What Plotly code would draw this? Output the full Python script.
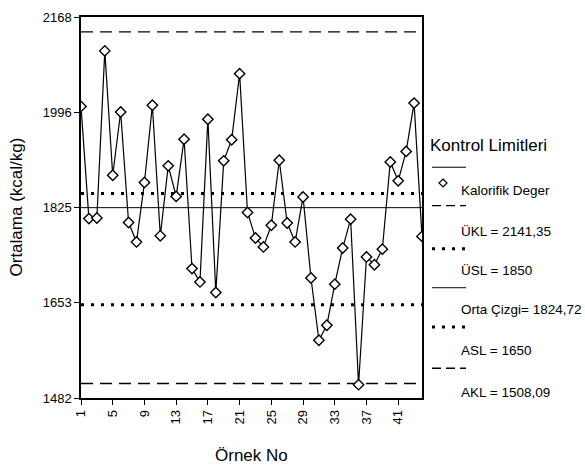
import plotly.graph_objects as go

# ---- data ----
sample_no = list(range(1, 45))
kalorifik = [2007, 1805, 1806, 2107, 1883, 1997, 1798, 1763, 1870, 2009,
             1774, 1900, 1845, 1948, 1715, 1691, 1984, 1672, 1909, 1947,
             2066, 1816, 1770, 1754, 1793, 1910, 1797, 1763, 1844, 1698,
             1586, 1613, 1687, 1752, 1804, 1506, 1736, 1722, 1750, 1907,
             1873, 1926, 2013, 1773]
UKL = 2141.35
USL = 1850
ORTA = 1824.72
ASL = 1650
AKL = 1508.09
y_tickvals = [1482, 1653.5, 1825, 1996.5, 2168]
y_ticktext = ["1482", "1653", "1825", "1996", "2168"]
x_tickvals = list(range(1, 42, 4))
legend_labels = ["Kalorifik Deger", "ÜKL = 2141,35", "ÜSL = 1850",
                 "Orta Çizgi= 1824,72", "ASL = 1650", "AKL = 1508,09"]

FONT = "Liberation Sans, Arial, sans-serif"
W, H = 585, 471
L, R, T, B = 81, 422, 10, 398

fig = go.Figure()
xr = [sample_no[0], sample_no[-1]]

styles = {
    "dash": dict(color="black", width=1.3, dash="12px,7px"),
    "dot": dict(color="black", width=3, dash="3px,7px"),
    "solid": dict(color="black", width=1),
}
for val, st in [(UKL, "dash"), (USL, "dot"), (ORTA, "solid"), (ASL, "dot"), (AKL, "dash")]:
    fig.add_trace(go.Scatter(x=xr, y=[val, val], mode="lines", line=styles[st],
                             hoverinfo="skip", showlegend=False))

fig.add_trace(go.Scatter(
    x=sample_no, y=kalorifik, mode="lines+markers",
    line=dict(color="black", width=1.2),
    marker=dict(symbol="diamond", size=8, color="white",
                line=dict(color="black", width=1.4)),
    showlegend=False))


def px(x):
    return (x - L) / (R - L)


def py(y):
    return (B - y) / (B - T)


shapes = []
annotations = []
# legend title
annotations.append(dict(x=px(428), y=py(141), xref="paper", yref="paper",
                        text="Kontrol Limitleri", showarrow=False, xanchor="left",
                        yanchor="middle", font=dict(family=FONT, size=17, color="black")))
line_ys = [163, 202, 246, 285.7, 325.7, 367.7]
line_st = ["solid", "dash", "dot", "solid", "dot", "dash"]
text_ys = [187, 228, 268, 308, 350, 392]
for ly, st, ty, lab in zip(line_ys, line_st, text_ys, legend_labels):
    s = styles[st]
    shapes.append(dict(type="line", xref="paper", yref="paper",
                       x0=px(432), x1=px(466), y0=py(ly), y1=py(ly),
                       line=dict(color="black", width=s["width"],
                                 dash={"dash": "9px,5px", "dot": "3px,7px", "solid": "solid"}[st])))
    annotations.append(dict(x=px(459), y=py(ty), xref="paper", yref="paper",
                            text=lab, showarrow=False, xanchor="left", yanchor="middle",
                            font=dict(family=FONT, size=13.5, color="black")))
# diamond marker in legend
cx, cy, r = 443, 179, 4
shapes.append(dict(type="path", xref="paper", yref="paper",
                   path=f"M {px(cx)} {py(cy - r)} L {px(cx + r)} {py(cy)} L {px(cx)} {py(cy + r)} L {px(cx - r)} {py(cy)} Z",
                   line=dict(color="black", width=1.2), fillcolor="white"))

# axis titles
annotations.append(dict(x=px(16), y=py(204), xref="paper", yref="paper",
                        text="Ortalama (kcal/kg)", showarrow=False, textangle=-90,
                        xanchor="center", yanchor="middle",
                        font=dict(family=FONT, size=17, color="black")))
annotations.append(dict(x=px(251), y=py(457), xref="paper", yref="paper",
                        text="Örnek No", showarrow=False,
                        xanchor="center", yanchor="middle",
                        font=dict(family=FONT, size=17, color="black")))

fig.update_layout(
    width=W, height=H,
    margin=dict(l=L, r=W - R, t=T, b=H - B),
    paper_bgcolor="white", plot_bgcolor="white",
    font=dict(family=FONT, size=13, color="black"),
    shapes=shapes, annotations=annotations, showlegend=False,
    xaxis=dict(range=xr, tickvals=x_tickvals, tickangle=-90, ticks="outside",
               ticklen=5, tickwidth=1.3, tickcolor="black", showgrid=False,
               zeroline=False, showline=True, linecolor="black", linewidth=1.5,
               mirror=True, tickfont=dict(size=13)),
    yaxis=dict(range=[1482, 2168], tickvals=y_tickvals, ticktext=y_ticktext,
               ticks="outside", ticklen=5, tickwidth=1.3, tickcolor="black",
               showgrid=False, zeroline=False, showline=True, linecolor="black",
               linewidth=1.5, mirror=True, tickfont=dict(size=13)),
)

post = ("document.body.style.margin='0';document.body.style.overflow='hidden';"
        "var d=document.getElementById('{plot_id}');"
        "d.style.position='fixed';d.style.left='0px';d.style.top='0px';")
fig.write_html("out.html", post_script=post, config={"displayModeBar": False})
